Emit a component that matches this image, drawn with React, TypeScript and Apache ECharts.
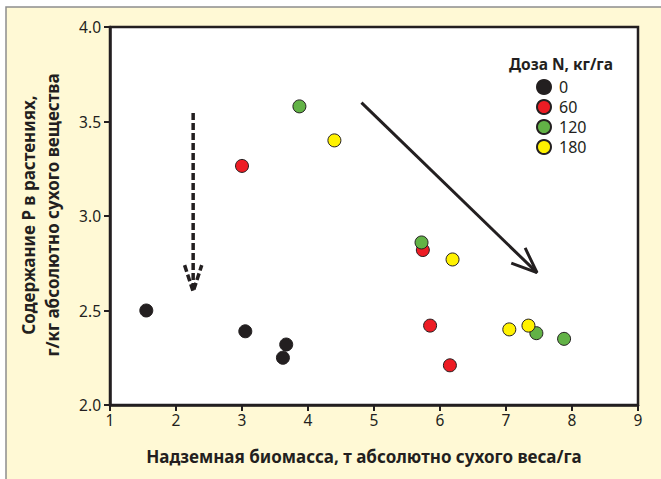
import React, { useEffect, useRef } from "react";
import * as echarts from "echarts";

const doses = ["0", "60", "120", "180"];
const colors = ["#231f20", "#ed1c24", "#62b246", "#fff200"];
const dose0: number[][] = [[1.55, 2.5], [3.05, 2.39], [3.67, 2.32], [3.62, 2.25]];
const dose60: number[][] = [[3.0, 3.265], [5.74, 2.82], [5.85, 2.42], [6.15, 2.21]];
const dose120: number[][] = [[3.87, 3.58], [5.72, 2.86], [7.46, 2.38], [7.88, 2.35]];
const dose180: number[][] = [[4.4, 3.4], [6.19, 2.77], [7.05, 2.4], [7.34, 2.42]];
const seriesData = [dose0, dose60, dose120, dose180];

const solidShaft: number[][] = [[4.81, 3.6], [7.47, 2.7]];
const solidHead: number[][] = [[7.08, 2.751], [7.47, 2.7], [7.29, 2.831]];
const dashShaft: number[][] = [[2.26, 3.545], [2.26, 2.63]];
const dashHead: number[][] = [[2.13, 2.74], [2.26, 2.6], [2.39, 2.74]];

const xTicks = [1, 9, 1];
const yTicks = [2, 4, 0.5];

const FONT = "'Noto Sans', 'DejaVu Sans', sans-serif";
const INK = "#231f20";

export default function App() {
  const ref = useRef<HTMLDivElement>(null);
  useEffect(() => {
    if (!ref.current) return;
    const chart = echarts.init(ref.current, undefined, { renderer: "svg" });
    const lineSeries = (data: number[][], dashed: boolean) => ({
      type: "line",
      data,
      symbol: "none",
      silent: true,
      z: 1,
      lineStyle: { color: INK, width: dashed ? 3.5 : 3, type: dashed ? [7, 3] : "solid", cap: "butt" },
    });
    chart.setOption({
      animation: false,
      textStyle: { fontFamily: FONT },
      graphic: [
        {
          type: "rect",
          z: -100,
          shape: { x: 6, y: 7, width: 700, height: 500 },
          style: { fill: "#fff9d5", stroke: "#8d8d8d", lineWidth: 1.5 },
        },
        {
          type: "text",
          x: 561,
          y: 64,
          style: {
            text: "Доза N, кг/га",
            fontFamily: FONT,
            fontSize: 15.5,
            fontWeight: "bold",
            fill: INK,
            align: "center",
            verticalAlign: "middle",
          },
        },
        {
          type: "text",
          x: 364,
          y: 456,
          style: {
            text: "Надземная биомасса, т абсолютно сухого веса/га",
            fontFamily: FONT,
            fontSize: 17,
            fontWeight: "bold",
            fill: INK,
            align: "center",
            verticalAlign: "middle",
          },
        },
        {
          type: "text",
          x: 40,
          y: 215,
          rotation: Math.PI / 2,
          style: {
            text: "Содержание P в растениях,\nг/кг абсолютно сухого вещества",
            fontFamily: FONT,
            fontSize: 17,
            fontWeight: "bold",
            lineHeight: 24,
            fill: INK,
            align: "center",
            verticalAlign: "middle",
          },
        },
      ],
      grid: {
        left: 110,
        top: 27,
        right: 23,
        bottom: 74,
        show: true,
        backgroundColor: "#ffffff",
        borderColor: INK,
        borderWidth: 2.5,
      },
      legend: {
        data: doses,
        orient: "vertical",
        left: 536,
        top: 79,
        padding: 0,
        itemWidth: 14,
        itemHeight: 14,
        itemGap: 4,
        icon: "circle",
        textStyle: {
          fontFamily: FONT,
          fontSize: 16,
          lineHeight: 16,
          color: INK,
          padding: [0, 0, 0, 3],
        },
      },
      xAxis: {
        type: "value",
        min: xTicks[0],
        max: xTicks[1],
        interval: xTicks[2],
        splitLine: { show: false },
        axisLine: { lineStyle: { color: INK, width: 2.5 } },
        axisTick: { length: 6, lineStyle: { color: INK, width: 2 } },
        axisLabel: { color: INK, fontSize: 15.5, margin: 7, fontFamily: FONT },
      },
      yAxis: {
        type: "value",
        min: yTicks[0],
        max: yTicks[1],
        interval: yTicks[2],
        splitLine: { show: false },
        axisLine: { show: true, lineStyle: { color: INK, width: 2.5 } },
        axisTick: { show: true, length: 6, lineStyle: { color: INK, width: 2 } },
        axisLabel: {
          color: INK,
          fontSize: 15.5,
          margin: 9,
          fontFamily: FONT,
          formatter: (v: number) => v.toFixed(1),
        },
      },
      series: [
        lineSeries(dashShaft, true),
        lineSeries(dashHead, true),
        lineSeries(solidShaft, false),
        lineSeries(solidHead, false),
        ...doses.map((d, i) => ({
          type: "scatter",
          name: d,
          data: seriesData[i],
          symbol: "circle",
          symbolSize: 13,
          z: 3,
          itemStyle: { color: colors[i], borderColor: INK, borderWidth: 1, opacity: 1 },
        })),
      ],
    });
    return () => chart.dispose();
  }, []);
  return (
    <div
      ref={ref}
      style={{ position: "absolute", left: 0, top: 0, width: 661, height: 479 }}
    />
  );
}
